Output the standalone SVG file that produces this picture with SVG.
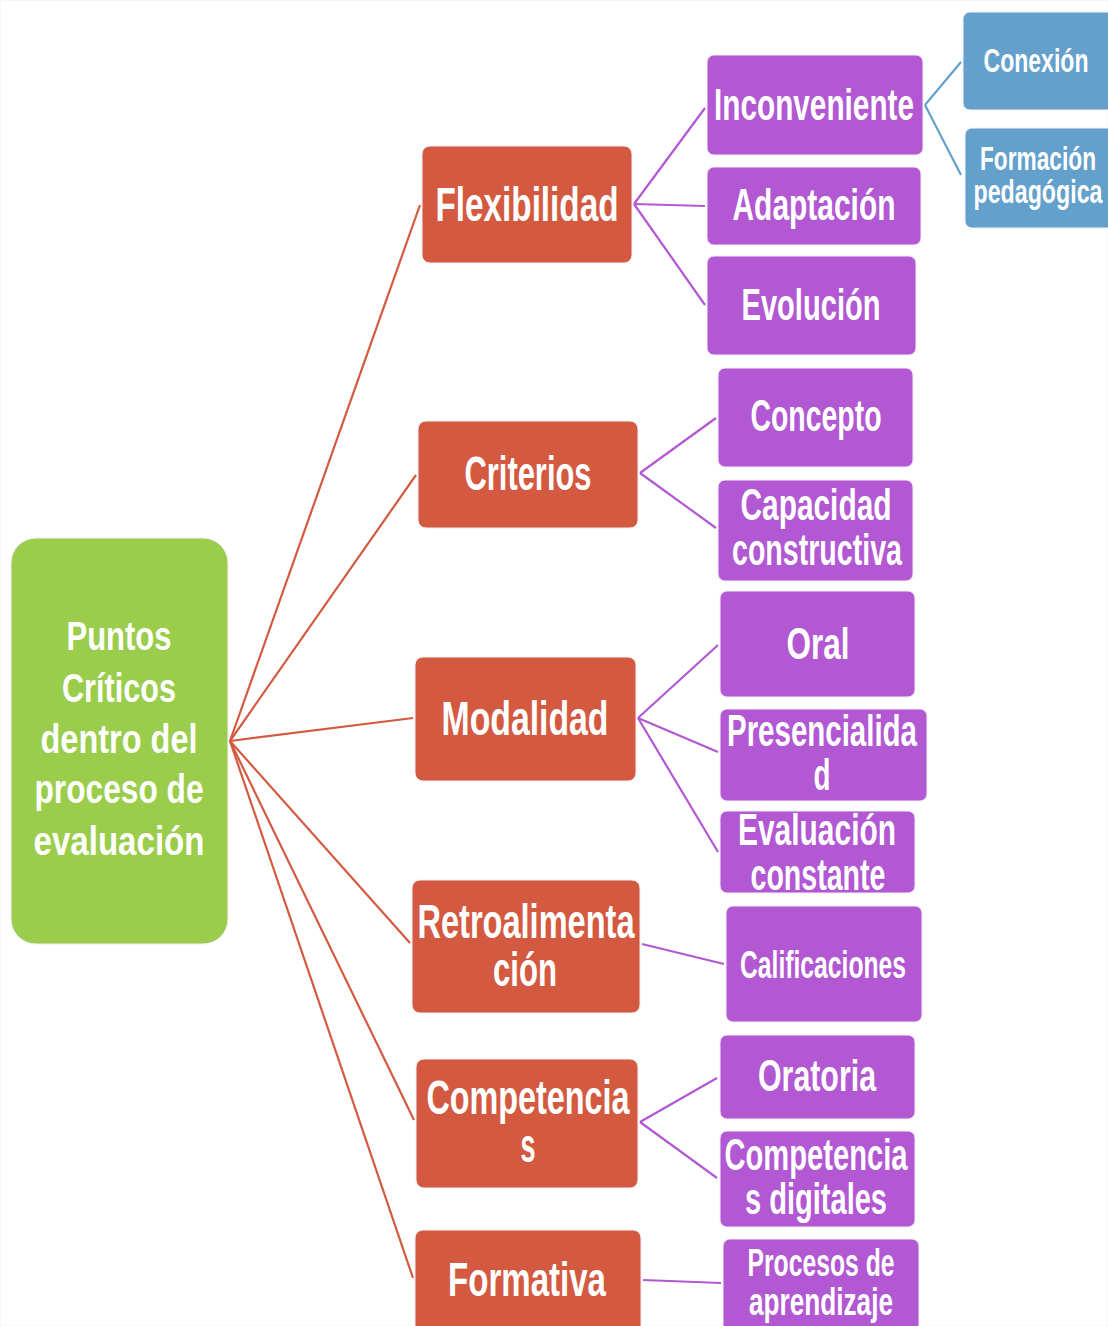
<svg xmlns="http://www.w3.org/2000/svg" width="1108" height="1326" viewBox="0 0 1108 1326">
<style>
text{font-family:"Liberation Sans Narrow","Liberation Sans","DejaVu Sans Condensed",sans-serif;font-weight:bold;fill:#fff;text-anchor:middle}
.root rect{fill:#9BCD4C}
.l1 rect{fill:#D35A40}
.l2 rect{fill:#B158D2}
.l3 rect{fill:#63A0CB}
rect{stroke:#f4eef8;stroke-width:1}
.t0{font-size:41px}
.t1{font-size:48px}
.t2{font-size:44px}
.t2s{font-size:38px}
.t3{font-size:33px}
#connectors line{stroke-width:2.2;fill:none}
.c1{stroke:#D35A40}
.c2{stroke:#B158D2}
.c3{stroke:#63A0CB}
</style>
<rect x="0" y="0" width="1108" height="1326" fill="#fff" stroke="none"/>
<g id="connectors">
<line class="c1" x1="230" y1="741" x2="420" y2="205"/>
<line class="c1" x1="230" y1="741" x2="416" y2="475"/>
<line class="c1" x1="230" y1="741" x2="413" y2="718"/>
<line class="c1" x1="230" y1="741" x2="410" y2="943"/>
<line class="c1" x1="230" y1="741" x2="414" y2="1120"/>
<line class="c1" x1="230" y1="741" x2="413" y2="1278"/>
<line class="c2" x1="634" y1="204" x2="705" y2="108"/>
<line class="c2" x1="634" y1="204" x2="705" y2="206"/>
<line class="c2" x1="634" y1="204" x2="705" y2="305"/>
<line class="c2" x1="640" y1="473" x2="716" y2="418"/>
<line class="c2" x1="640" y1="473" x2="716" y2="528"/>
<line class="c2" x1="638" y1="718" x2="718" y2="645"/>
<line class="c2" x1="638" y1="718" x2="718" y2="752"/>
<line class="c2" x1="638" y1="718" x2="718" y2="852"/>
<line class="c2" x1="642" y1="944" x2="724" y2="964"/>
<line class="c2" x1="640" y1="1122" x2="717" y2="1078"/>
<line class="c2" x1="640" y1="1122" x2="717" y2="1178"/>
<line class="c2" x1="643" y1="1280" x2="721" y2="1283"/>
<line class="c3" x1="925" y1="105" x2="961" y2="62"/>
<line class="c3" x1="925" y1="105" x2="961" y2="175"/>
</g>
<g id="root" class="root">
<rect x="11" y="538" width="217" height="406" rx="25"/>
<text class="t0" x="119" y="650" textLength="105" lengthAdjust="spacingAndGlyphs">Puntos</text>
<text class="t0" x="119" y="702" textLength="114" lengthAdjust="spacingAndGlyphs">Críticos</text>
<text class="t0" x="119" y="753" textLength="157" lengthAdjust="spacingAndGlyphs">dentro del</text>
<text class="t0" x="119" y="803" textLength="169" lengthAdjust="spacingAndGlyphs">proceso de</text>
<text class="t0" x="119" y="855" textLength="171" lengthAdjust="spacingAndGlyphs">evaluación</text>
</g>
<g id="flexibilidad" class="l1">
<rect x="422" y="146" width="210" height="117" rx="8"/>
<text class="t1" x="527" y="221" textLength="183" lengthAdjust="spacingAndGlyphs">Flexibilidad</text>
</g>
<g id="criterios" class="l1">
<rect x="418" y="421" width="220" height="107" rx="8"/>
<text class="t1" x="528" y="490" textLength="127" lengthAdjust="spacingAndGlyphs">Criterios</text>
</g>
<g id="modalidad" class="l1">
<rect x="415" y="657" width="221" height="124" rx="8"/>
<text class="t1" x="525" y="735" textLength="167" lengthAdjust="spacingAndGlyphs">Modalidad</text>
</g>
<g id="retroalimentacion" class="l1">
<rect x="412" y="880" width="228" height="133" rx="8"/>
<text class="t1" x="526" y="938" textLength="217" lengthAdjust="spacingAndGlyphs">Retroalimenta</text>
<text class="t1" x="525" y="986" textLength="64" lengthAdjust="spacingAndGlyphs">ción</text>
</g>
<g id="competencias" class="l1">
<rect x="416" y="1059" width="222" height="129" rx="8"/>
<text class="t1" x="528" y="1114" textLength="203" lengthAdjust="spacingAndGlyphs">Competencia</text>
<text class="t1" x="528" y="1162" textLength="15" lengthAdjust="spacingAndGlyphs">s</text>
</g>
<g id="formativa" class="l1">
<rect x="415" y="1230" width="226" height="110" rx="8"/>
<text class="t1" x="527" y="1296" textLength="158" lengthAdjust="spacingAndGlyphs">Formativa</text>
</g>
<g id="inconveniente" class="l2">
<rect x="707" y="55" width="216" height="100" rx="7"/>
<text class="t2" x="814" y="120" textLength="200" lengthAdjust="spacingAndGlyphs">Inconveniente</text>
</g>
<g id="adaptacion" class="l2">
<rect x="707" y="167" width="214" height="78" rx="7"/>
<text class="t2" x="814" y="220" textLength="163" lengthAdjust="spacingAndGlyphs">Adaptación</text>
</g>
<g id="evolucion" class="l2">
<rect x="707" y="256" width="209" height="99" rx="7"/>
<text class="t2" x="811" y="320" textLength="139" lengthAdjust="spacingAndGlyphs">Evolución</text>
</g>
<g id="concepto" class="l2">
<rect x="718" y="368" width="195" height="99" rx="7"/>
<text class="t2" x="816" y="431" textLength="131" lengthAdjust="spacingAndGlyphs">Concepto</text>
</g>
<g id="capacidad" class="l2">
<rect x="718" y="480" width="195" height="101" rx="7"/>
<text class="t2" x="816" y="520" textLength="151" lengthAdjust="spacingAndGlyphs">Capacidad</text>
<text class="t2" x="817" y="565" textLength="170" lengthAdjust="spacingAndGlyphs">constructiva</text>
</g>
<g id="oral" class="l2">
<rect x="720" y="591" width="195" height="106" rx="7"/>
<text class="t2" x="818" y="659" textLength="63" lengthAdjust="spacingAndGlyphs">Oral</text>
</g>
<g id="presencialidad" class="l2">
<rect x="720" y="709" width="207" height="92" rx="7"/>
<text class="t2" x="822" y="746" textLength="190" lengthAdjust="spacingAndGlyphs">Presencialida</text>
<text class="t2" x="822" y="790" textLength="17" lengthAdjust="spacingAndGlyphs">d</text>
</g>
<g id="evaluacion-constante" class="l2">
<rect x="720" y="811" width="195" height="82" rx="7"/>
<text class="t2" x="817" y="845" textLength="158" lengthAdjust="spacingAndGlyphs">Evaluación</text>
<text class="t2" x="818" y="890" textLength="135" lengthAdjust="spacingAndGlyphs">constante</text>
</g>
<g id="calificaciones" class="l2">
<rect x="726" y="906" width="196" height="116" rx="7"/>
<text class="t2s" x="823" y="978" textLength="166" lengthAdjust="spacingAndGlyphs">Calificaciones</text>
</g>
<g id="oratoria" class="l2">
<rect x="720" y="1035" width="195" height="84" rx="7"/>
<text class="t2" x="817" y="1091" textLength="118" lengthAdjust="spacingAndGlyphs">Oratoria</text>
</g>
<g id="competencias-digitales" class="l2">
<rect x="720" y="1131" width="195" height="96" rx="7"/>
<text class="t2" x="816" y="1170" textLength="183" lengthAdjust="spacingAndGlyphs">Competencia</text>
<text class="t2" x="816" y="1214" textLength="142" lengthAdjust="spacingAndGlyphs">s digitales</text>
</g>
<g id="procesos" class="l2">
<rect x="723" y="1239" width="196" height="100" rx="7"/>
<text class="t2s" x="821" y="1276" textLength="147" lengthAdjust="spacingAndGlyphs">Procesos de</text>
<text class="t2s" x="821" y="1315" textLength="144" lengthAdjust="spacingAndGlyphs">aprendizaje</text>
</g>
<g id="conexion" class="l3">
<rect x="963" y="12" width="155" height="98" rx="7"/>
<text class="t3" x="1036" y="72" textLength="105" lengthAdjust="spacingAndGlyphs">Conexión</text>
</g>
<g id="formacion" class="l3">
<rect x="965" y="128" width="153" height="100" rx="7"/>
<text class="t3" x="1038" y="170" textLength="116" lengthAdjust="spacingAndGlyphs">Formación</text>
<text class="t3" x="1038" y="203" textLength="129" lengthAdjust="spacingAndGlyphs">pedagógica</text>
</g>
</svg>
